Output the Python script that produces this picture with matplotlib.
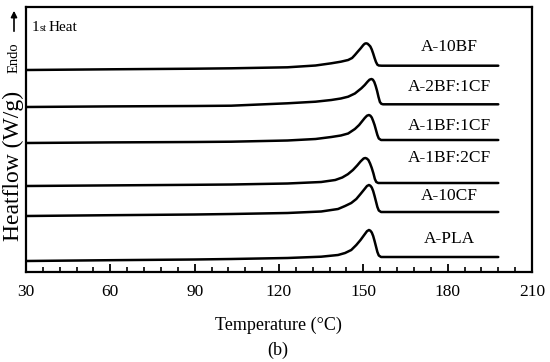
import matplotlib
matplotlib.use("Agg")
import matplotlib.pyplot as plt
from matplotlib.ticker import MultipleLocator

plt.rcParams['font.family'] = ['Liberation Serif', 'DejaVu Serif']

# ---- data (heat flow in arbitrary offset units) ----
t_10bf = [30, 60, 90, 103, 123, 133, 138.6, 142, 144.6, 146, 147, 148, 149, 150, 150.5, 151, 151.5, 152,
          152.5, 153, 153.5, 154, 154.5, 155, 155.5, 156.5, 170, 198]
v_10bf = [202, 202.7, 203.3, 203.7, 204.7, 206.5, 208.7, 210.3, 212, 214, 217, 220.3, 223.5, 227, 228.3, 228.7, 228.3, 227,
          225.5, 222.5, 218.5, 214, 210, 207.3, 206.5, 206.3, 206.3, 206.3]

t_2bf1cf = [30, 60, 90, 103, 123, 133, 138.6, 142, 144.6, 147, 149.3, 150.5, 151.5, 152.2, 152.9, 153.4, 153.9,
            154.4, 154.9, 155.4, 155.9, 156.4, 157, 170, 198]
v_2bf1cf = [165, 165.6, 166, 166.3, 168.7, 170.3, 172, 173.5, 175.3, 178.5, 183.7, 187, 190.3, 192.3, 193, 192.3, 190,
            186, 181, 175, 170, 168.2, 167.7, 167.7, 167.7]

t_1bf1cf = [30, 60, 90, 103, 123, 133, 138.6, 142, 144.6, 147, 148.5, 149.5, 150.5, 151.3, 152, 152.5, 153, 153.5,
            154, 154.5, 155, 155.5, 156.3, 170, 198]
v_1bf1cf = [129, 129.6, 130, 130.3, 131.5, 133, 135, 136.5, 138.5, 143, 147, 150.5, 154, 156.3, 157, 156.3, 154.5, 151,
            147, 142, 137, 133.5, 132, 132, 132]

t_1bf2cf = [30, 60, 90, 103, 123, 135, 140, 142.5, 144.5, 146.3, 147.8, 149, 150.1, 150.7, 151.2, 151.8, 152.4,
            153, 153.6, 154.1, 154.6, 155.3, 170, 198]
v_1bf2cf = [86, 86.6, 87.2, 87.5, 88.5, 90, 92, 94.5, 97.8, 102, 106.5, 110.5, 113.5, 114, 113.5, 112, 108.5,
            104, 98.5, 93, 90, 89, 89, 89]

t_10cf = [30, 60, 90, 103, 123, 135, 141, 143.5, 145.7, 147.5, 149, 150.3, 151.3, 152, 152.5, 153, 153.5, 154,
          154.5, 155, 155.5, 156.3, 170, 198]
v_10cf = [56, 56.8, 57.5, 58, 59, 60.5, 63, 66, 69, 73, 78, 82.5, 86, 87, 86.3, 84.5, 81, 76,
          70.5, 65, 61.5, 60, 60, 60]

t_pla = [30, 60, 90, 103, 123, 135, 141, 143.5, 145.7, 147.5, 149, 150.3, 151.3, 152, 152.5, 153, 153.5, 154,
         154.5, 155, 155.5, 156.3, 170, 198]
v_pla = [11, 11.8, 12.5, 13, 14, 15.3, 17, 19, 22, 27, 32, 37, 40.8, 42, 41.3, 39.5, 36, 31,
         25.5, 20, 16.5, 15, 15, 15]

series_t = [t_10bf, t_2bf1cf, t_1bf1cf, t_1bf2cf, t_10cf, t_pla]
series_v = [v_10bf, v_2bf1cf, v_1bf1cf, v_1bf2cf, v_10cf, v_pla]
names = ["A-10BF", "A-2BF:1CF", "A-1BF:1CF", "A-1BF:2CF", "A-10CF", "A-PLA"]
label_t = [180.5, 180.5, 180.5, 180.5, 180.5, 180.5]
label_v = [225, 185, 146, 114, 76, 33]

x_ticks = [30, 60, 90, 120, 150, 180, 210]

# ---- figure ----
fig = plt.figure(figsize=(5.5, 3.62), dpi=100)
ax = fig.add_axes([26/550, 1 - 272/362, (532-26)/550, (272-7)/362])

for t, v in zip(series_t, series_v):
    ax.plot(t, v, color='black', lw=1.8, solid_joinstyle='round', solid_capstyle='round')

for n, lt, lv in zip(names, label_t, label_v):
    ax.text(lt, lv, n, ha='center', va='center', fontsize=12.5)

ax.set_xlim(30, 210)
ax.set_ylim(0, 265)
ax.set_xticks(x_ticks)
ax.xaxis.set_minor_locator(MultipleLocator(6))
ax.tick_params(axis='x', which='major', direction='in', length=6, width=1.3, labelsize=12.5, pad=9)
ax.tick_params(axis='x', which='minor', direction='in', length=3.5, width=1.2)
ax.set_yticks([])
for s in ax.spines.values():
    s.set_linewidth(1.6)

fig.text(278/550, 1 - 325/362, "Temperature (\u00b0C)", ha='center', va='center', fontsize=13)

# 1st Heat
ax.text(0.012, 0.91, "1", transform=ax.transAxes, fontsize=11, ha='left', va='baseline')
ax.text(0.026, 0.91, "st", transform=ax.transAxes, fontsize=7.5, ha='left', va='baseline')
ax.text(0.045, 0.91, "Heat", transform=ax.transAxes, fontsize=11, ha='left', va='baseline')

# y label with Endo arrow
fig.text(13/550, 1 - 166/362, "Heatflow (W/g)", rotation=90, ha='center', va='center', fontsize=17)
fig.text(14/550, 1 - 58/362, "Endo", rotation=90, ha='center', va='center', fontsize=10.5)
fig.add_artist(matplotlib.patches.FancyArrowPatch(
    (14/550, 1 - 34/362), (14/550, 1 - 8/362), transform=fig.transFigure,
    arrowstyle='-|>', mutation_scale=9, lw=1.2, color='black'))

fig.text(278/550, 1 - 350/362, "(b)", ha='center', va='center', fontsize=13)

fig.savefig("out.png", dpi=100)
